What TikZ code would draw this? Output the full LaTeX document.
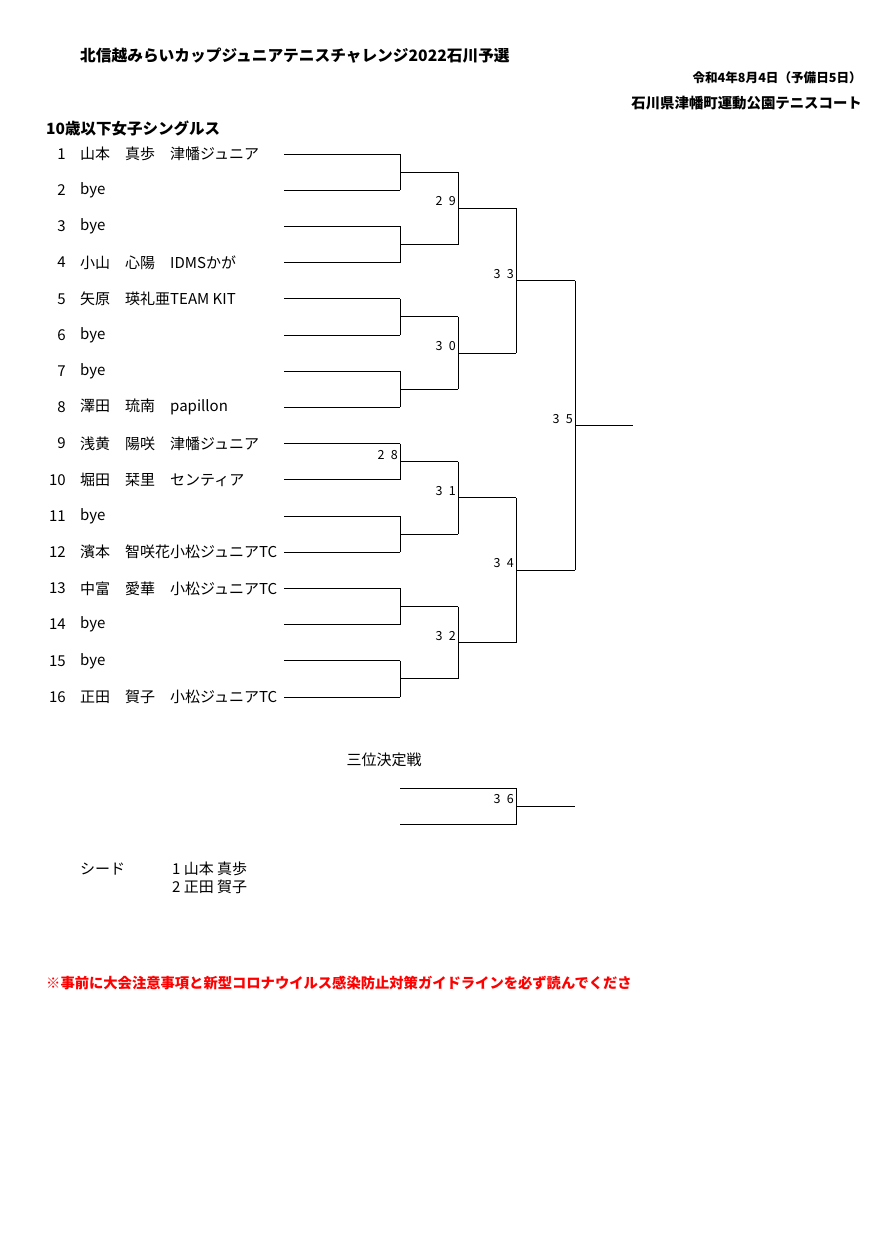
\documentclass[tikz,border=0pt]{standalone}
\usepackage{fontspec}
\usetikzlibrary{calc}
\setmainfont{Noto Sans CJK JP}
\begin{document}
\begin{tikzpicture}[x=1pt,y=-1pt,
  ln/.style={line width=1pt},
  pl/.style={anchor=west,font=\fontsize{15}{16}\selectfont,inner sep=0},
  lb/.style={anchor=south east,font=\fontsize{12.5}{14}\selectfont,inner sep=2pt},
  hd/.style={inner sep=0,font=\bfseries\fontsize{14.4}{16}\selectfont}]
\useasboundingbox (0,0) rectangle (890,1258);
\fill[white] (0,0) rectangle (890,1258);
\node[hd,anchor=west,font=\bfseries\fontsize{15.7}{17}\selectfont] (title) at (80,56) {北信越みらいカップジュニアテニスチャレンジ2022石川予選};
\node[hd,anchor=east,font=\bfseries\fontsize{12.6}{14}\selectfont] (date) at (862,78) {令和4年8月4日（予備日5日）};
\node[hd,anchor=east] (venue) at (862,103) {石川県津幡町運動公園テニスコート};
\node[hd,anchor=west,font=\bfseries\fontsize{15.5}{17}\selectfont] (cat) at (46,128) {10歳以下女子シングルス};
\foreach \i/\t [count=\k] in {1/山本　真歩　津幡ジュニア,2/bye,3/bye,4/小山　心陽　IDMSかが,5/矢原　瑛礼亜TEAM KIT,6/bye,7/bye,8/澤田　琉南　papillon,9/浅黄　陽咲　津幡ジュニア,10/堀田　栞里　センティア,11/bye,12/濱本　智咲花小松ジュニアTC,13/中富　愛華　小松ジュニアTC,14/bye,15/bye,16/正田　賀子　小松ジュニアTC}{
  \pgfmathsetmacro\yy{154+(\k-1)*36.2}
  \node[pl,anchor=east] (n\k) at (66,\yy) {\i};
  \node[pl] (p\k) at (80,\yy) {\t};
  \coordinate (a\k) at (284,\yy);
  \coordinate (b\k) at (400,\yy);
  \draw[ln] (a\k) -- (b\k);
}
% round 1
\foreach \u/\l/\m in {1/2/m1,3/4/m2,5/6/m3,7/8/m4,9/10/m5,11/12/m6,13/14/m7,15/16/m8}{
  \draw[ln] (b\u) -- (b\l);
  \coordinate (\m) at ($(b\u)!0.5!(b\l)$);
}
\foreach \m in {m1,m2,m3,m4,m5,m6,m7,m8}{
  \coordinate (\m r) at ($(\m)+(58,0)$);
  \draw[ln] (\m) -- (\m r);
}
\node[lb] (l28) at (m5) {2\enspace8};
% round 2
\foreach \u/\l/\m/\t in {m1/m2/q1/2\enspace9,m3/m4/q2/3\enspace0,m5/m6/q3/3\enspace1,m7/m8/q4/3\enspace2}{
  \draw[ln] (\u r) -- (\l r);
  \coordinate (\m) at ($(\u r)!0.5!(\l r)$);
  \coordinate (\m r) at ($(\m)+(58,0)$);
  \draw[ln] (\m) -- (\m r);
  \node[lb] at (\m) {\t};
}
% round 3
\foreach \u/\l/\m/\t in {q1/q2/s1/3\enspace3,q3/q4/s2/3\enspace4}{
  \draw[ln] (\u r) -- (\l r);
  \coordinate (\m) at ($(\u r)!0.5!(\l r)$);
  \coordinate (\m r) at ($(\m)+(59,0)$);
  \draw[ln] (\m) -- (\m r);
  \node[lb] at (\m) {\t};
}
\draw[ln] (s1r) -- (s2r);
\coordinate (f) at ($(s1r)!0.5!(s2r)$);
\coordinate (fr) at ($(f)+(58,0)$);
\draw[ln] (f) -- (fr);
\node[lb] (l35) at (f) {3\enspace5};
% third place
\node[pl,anchor=center] (tp) at (384,760) {三位決定戦};
\coordinate (t1) at (400,788); \coordinate (t1r) at (516,788);
\coordinate (t2) at (400,824); \coordinate (t2r) at (516,824);
\coordinate (tm) at (516,806); \coordinate (tmr) at (575,806);
\draw[ln] (t1) -- (t1r) -- (t2r) -- (t2);
\draw[ln] (tm) -- (tmr);
\node[lb] (l36) at (tm) {3\enspace6};
% seeds
\node[pl] (sd) at (80,869) {シード};
\node[pl] (s1t) at (172,869) {1 山本 真歩};
\node[pl] (s2t) at (172,887) {2 正田 賀子};
\node[pl,text=red,font=\bfseries\fontsize{14.3}{16}\selectfont] (note) at (46,983) {※事前に大会注意事項と新型コロナウイルス感染防止対策ガイドラインを必ず読んでくださ};
\end{tikzpicture}
\end{document}
